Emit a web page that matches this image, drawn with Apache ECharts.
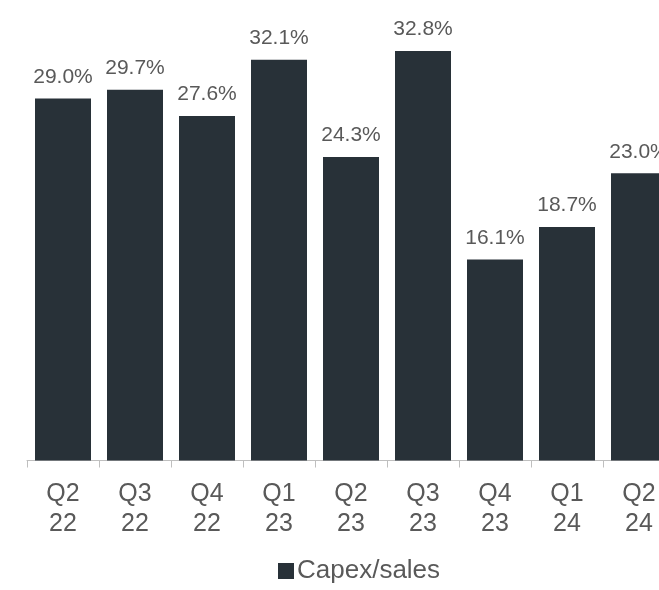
<!DOCTYPE html>
<html>
<head>
<meta charset="utf-8">
<script src="https://cdn.jsdelivr.net/npm/echarts@6/dist/echarts.min.js"></script>
<style>html,body{margin:0;padding:0;background:#fff;overflow:hidden;width:659px;height:590px;}#c{width:700px;height:590px;}</style>
</head>
<body>
<div id="c"></div>
<script>
const categories = ['Q2\n22','Q3\n22','Q4\n22','Q1\n23','Q2\n23','Q3\n23','Q4\n23','Q1\n24','Q2\n24'];
const capexSales = [29.0, 29.7, 27.6, 32.1, 24.3, 32.8, 16.1, 18.7, 23.0];
const seriesName = 'Capex/sales';

const chart = echarts.init(document.getElementById('c'));
chart.setOption({
  animation: false,
  backgroundColor: '#ffffff',
  textStyle: { fontFamily: 'Liberation Sans, Arial, sans-serif' },
  grid: { left: 27, right: 25, top: 11, bottom: 129.5, containLabel: false },
  legend: {
    data: [seriesName],
    left: 273, bottom: 1,
    icon: 'rect', itemWidth: 16, itemHeight: 16, itemGap: 4,
    textStyle: { fontSize: 26, color: '#595959', fontFamily: 'Liberation Sans, Arial, sans-serif', padding: [0,0,0,-2] }
  },
  xAxis: {
    type: 'category',
    data: categories,
    boundaryGap: true,
    axisLine: { show: true, lineStyle: { color: '#bfbfbf', width: 1 } },
    axisTick: { show: true, length: 7, lineStyle: { color: '#bfbfbf' } },
    axisLabel: { fontSize: 25, lineHeight: 30, color: '#595959', margin: 19, interval: 0 }
  },
  yAxis: {
    type: 'value', min: 0, max: 36,
    show: false,
    splitLine: { show: false }
  },
  series: [{
    name: seriesName,
    type: 'bar',
    data: capexSales,
    barWidth: 56,
    itemStyle: { color: '#283138' },
    label: {
      show: true, position: 'top', distance: 11,
      formatter: p => p.value.toFixed(1) + '%',
      fontSize: 21, color: '#595959'
    }
  }]
});
</script>
</body>
</html>
